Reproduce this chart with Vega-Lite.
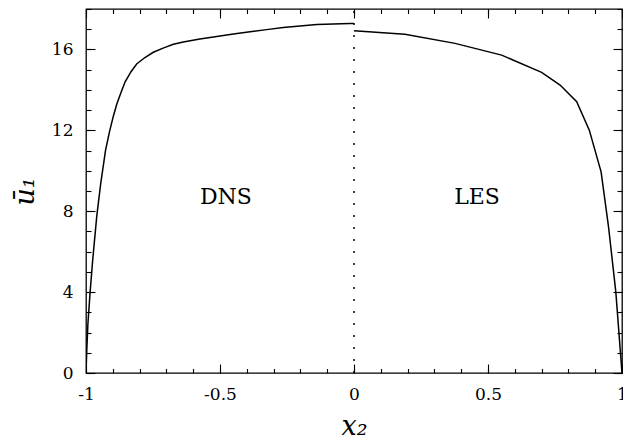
{
  "$schema": "https://vega.github.io/schema/vega-lite/v6.json",
  "width": 536,
  "height": 364,
  "autosize": {"type": "none"},
  "padding": {"left": 86, "top": 9, "right": 1, "bottom": 70},
  "background": "white",
  "config": {
    "view": {"stroke": "black", "strokeWidth": 1.3},
    "font": "DejaVu Serif",
    "axis": {"grid": false, "domain": false, "tickColor": "black", "tickWidth": 1.1, "labelColor": "black", "titleColor": "black", "labelFont": "DejaVu Serif", "titleFont": "DejaVu Serif"}
  },
  "datasets": {
    "dns": [
      {"x": -1, "u": 0}, {"x": -0.997, "u": 1.14}, {"x": -0.993, "u": 2.4}, {"x": -0.985, "u": 3.94},
      {"x": -0.975, "u": 5.59}, {"x": -0.96, "u": 7.73}, {"x": -0.945, "u": 9.38}, {"x": -0.927, "u": 11.02},
      {"x": -0.912, "u": 11.95}, {"x": -0.898, "u": 12.7}, {"x": -0.885, "u": 13.3}, {"x": -0.87, "u": 13.85},
      {"x": -0.854, "u": 14.4}, {"x": -0.832, "u": 14.9}, {"x": -0.811, "u": 15.28}, {"x": -0.78, "u": 15.6},
      {"x": -0.749, "u": 15.86},
      {"x": -0.71, "u": 16.08}, {"x": -0.674, "u": 16.26}, {"x": -0.637, "u": 16.37}, {"x": -0.575, "u": 16.52},
      {"x": -0.512, "u": 16.64}, {"x": -0.45, "u": 16.76}, {"x": -0.388, "u": 16.87}, {"x": -0.326, "u": 16.98},
      {"x": -0.264, "u": 17.08}, {"x": -0.201, "u": 17.16}, {"x": -0.139, "u": 17.23}, {"x": -0.077, "u": 17.26},
      {"x": -0.015, "u": 17.28}, {"x": 0, "u": 17.28}
    ],
    "les": [
      {"x": 0, "u": 16.92}, {"x": 0.19, "u": 16.75}, {"x": 0.377, "u": 16.3}, {"x": 0.551, "u": 15.72},
      {"x": 0.7, "u": 14.87}, {"x": 0.769, "u": 14.24}, {"x": 0.831, "u": 13.42}, {"x": 0.878, "u": 12.01},
      {"x": 0.922, "u": 9.95}, {"x": 0.95, "u": 7.2}, {"x": 0.977, "u": 4.0}, {"x": 1.0, "u": 0}
    ],
    "labels": [
      {"x": -0.478, "u": 8.7, "label": "DNS"},
      {"x": 0.459, "u": 8.7, "label": "LES"}
    ],
    "divider": [{"x": 0, "u0": 0, "u1": 18}]
  },
  "layer": [
    {
      "data": {"name": "dns"},
      "mark": {"type": "line", "color": "black", "strokeWidth": 1.5, "clip": true},
      "encoding": {
        "x": {"field": "x", "type": "quantitative", "scale": {"domain": [-1, 1], "nice": false, "zero": false},
          "axis": {"orient": "bottom", "values": [-1, -0.5, 0, 0.5, 1], "tickSize": -9, "labelPadding": 22, "labelFontSize": 17, "labelExpr": "toString(datum.value)", "labelFlush": false, "labelOverlap": false,
            "title": "x₂", "titleFontSize": 27, "titleFontStyle": "italic", "titleFontWeight": "normal", "titlePadding": 11}},
        "y": {"field": "u", "type": "quantitative", "scale": {"domain": [0, 18], "nice": false},
          "axis": {"orient": "left", "values": [0, 4, 8, 12, 16], "tickSize": -9, "labelPadding": 22, "labelFontSize": 17, "labelFlush": false, "labelOverlap": false,
            "title": "ū₁", "titleFontSize": 27, "titleFontStyle": "italic", "titleFontWeight": "normal", "titlePadding": 12}}
      }
    },
    {
      "data": {"name": "les"},
      "mark": {"type": "line", "color": "black", "strokeWidth": 1.5, "clip": true},
      "encoding": {
        "x": {"field": "x", "type": "quantitative",
          "axis": {"orient": "bottom", "values": [-1, -0.9, -0.8, -0.7, -0.6, -0.5, -0.4, -0.3, -0.2, -0.1, 0, 0.1, 0.2, 0.3, 0.4, 0.5, 0.6, 0.7, 0.8, 0.9, 1], "tickSize": -4.5, "labels": false, "title": null}},
        "y": {"field": "u", "type": "quantitative",
          "axis": {"orient": "left", "values": [0, 1, 2, 3, 4, 5, 6, 7, 8, 9, 10, 11, 12, 13, 14, 15, 16, 17, 18], "tickSize": -5, "labels": false, "title": null}}
      }
    },
    {
      "data": {"name": "divider"},
      "mark": {"type": "rule", "color": "black", "strokeWidth": 1.5, "strokeDash": [2, 10]},
      "encoding": {
        "x": {"field": "x", "type": "quantitative",
          "axis": {"orient": "top", "values": [-1, -0.5, 0, 0.5, 1], "tickSize": -9, "labels": false, "title": null}},
        "y": {"field": "u0", "type": "quantitative",
          "axis": {"orient": "right", "values": [0, 4, 8, 12, 16], "tickSize": -9, "labels": false, "title": null}},
        "y2": {"field": "u1"}
      }
    },
    {
      "data": {"name": "labels"},
      "mark": {"type": "text", "font": "DejaVu Serif", "fontSize": 22, "color": "black", "align": "center", "baseline": "middle"},
      "encoding": {
        "x": {"field": "x", "type": "quantitative",
          "axis": {"orient": "top", "values": [-1, -0.9, -0.8, -0.7, -0.6, -0.5, -0.4, -0.3, -0.2, -0.1, 0, 0.1, 0.2, 0.3, 0.4, 0.5, 0.6, 0.7, 0.8, 0.9, 1], "tickSize": -4.5, "labels": false, "title": null}},
        "y": {"field": "u", "type": "quantitative",
          "axis": {"orient": "right", "values": [0, 1, 2, 3, 4, 5, 6, 7, 8, 9, 10, 11, 12, 13, 14, 15, 16, 17, 18], "tickSize": -5, "labels": false, "title": null}},
        "text": {"field": "label"}
      }
    }
  ],
  "resolve": {"axis": {"x": "independent", "y": "independent"}}
}
